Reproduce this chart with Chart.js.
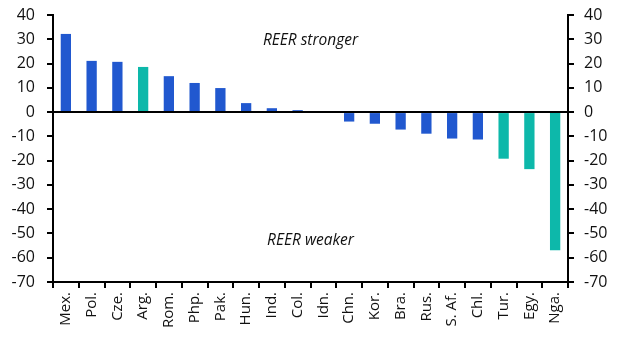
<!DOCTYPE html>
<html><head><meta charset="utf-8">
<script src="https://cdn.jsdelivr.net/npm/chart.js@4/dist/chart.umd.min.js"></script>
<style>html,body{margin:0;padding:0;background:#fff}#wrap{width:621px;height:340px}</style>
</head><body><div id="wrap"><canvas id="c" width="621" height="340"></canvas></div>
<script>
const categories = ["Mex.","Pol.","Cze.","Arg.","Rom.","Php.","Pak.","Hun.","Ind.","Col.","Idn.","Chn.","Kor.","Bra.","Rus.","S. Af.","Chl.","Tur.","Egy.","Nga."];
const values = [32.2, 21.1, 20.7, 18.6, 14.8, 12.0, 9.9, 3.7, 1.6, 0.8, 0, -3.9, -4.8, -7.2, -8.9, -10.9, -11.3, -19.2, -23.5, -56.9];
const highlight = [0,0,0,1,0,0,0,0,0,0,0,0,0,0,0,0,0,1,1,1];
const yTicks = [40,30,20,10,0,-10,-20,-30,-40,-50,-60,-70];
const blue = "#2158CF", teal = "#0DB8AA";
const font = "'Open Sans', 'Noto Sans', sans-serif";

const annot = {
  id: 'annot',
  afterDatasetsDraw(chart) {
    const {ctx, chartArea, scales} = chart;
    const y0 = scales.y.getPixelForValue(0);
    ctx.save();
    ctx.strokeStyle = '#000'; ctx.lineWidth = 2;
    ctx.beginPath(); ctx.moveTo(chartArea.left, y0); ctx.lineTo(chartArea.right, y0); ctx.stroke();
    ctx.fillStyle = '#111';
    ctx.font = "italic 15.5px " + font;
    ctx.textAlign = 'center'; ctx.textBaseline = 'middle';
    const cx = (chartArea.left + chartArea.right) / 2;
    ctx.fillText('REER stronger', cx, scales.y.getPixelForValue(29.5));
    ctx.fillText('REER weaker', cx, scales.y.getPixelForValue(-53));
    ctx.restore();
  }
};

const fitY = ax => { ax.width = 53; ax.paddingTop = 0; ax.paddingBottom = 0; };

new Chart(document.getElementById('c'), {
  type: 'bar',
  data: {
    labels: categories,
    datasets: [{
      data: values,
      backgroundColor: highlight.map(h => h ? teal : blue),
      barPercentage: 0.4,
      categoryPercentage: 1.0,
      yAxisID: 'y'
    }]
  },
  options: {
    responsive: false,
    animation: false,
    layout: { padding: { top: 15, right: 0, left: 0, bottom: 0 } },
    plugins: { legend: { display: false }, tooltip: { enabled: false } },
    scales: {
      x: {
        offset: true,
        afterFit: ax => { ax.height = 58; },
        grid: { display: true, drawOnChartArea: false, offset: true, tickLength: 6, color: '#000', lineWidth: 2 },
        border: { display: true, color: '#000', width: 2 },
        ticks: { color: '#111', font: { family: font, size: 15 }, maxRotation: 90, minRotation: 90, autoSkip: false, padding: 4 }
      },
      y: {
        position: 'left', min: -70, max: 40,
        afterBuildTicks: ax => { ax.ticks = yTicks.map(v => ({ value: v })); },
        afterFit: fitY,
        grid: { display: true, drawOnChartArea: false, tickLength: 6, color: '#000', lineWidth: 2 },
        border: { display: true, color: '#000', width: 2 },
        ticks: { color: '#111', font: { family: font, size: 16 }, padding: 12 }
      },
      y2: {
        position: 'right', min: -70, max: 40,
        afterBuildTicks: ax => { ax.ticks = yTicks.map(v => ({ value: v })); },
        afterFit: fitY,
        grid: { display: true, drawOnChartArea: false, tickLength: 6, color: '#000', lineWidth: 2 },
        border: { display: true, color: '#000', width: 2 },
        ticks: { color: '#111', font: { family: font, size: 16 }, padding: 10 }
      }
    }
  },
  plugins: [annot]
});
</script>
</body></html>
